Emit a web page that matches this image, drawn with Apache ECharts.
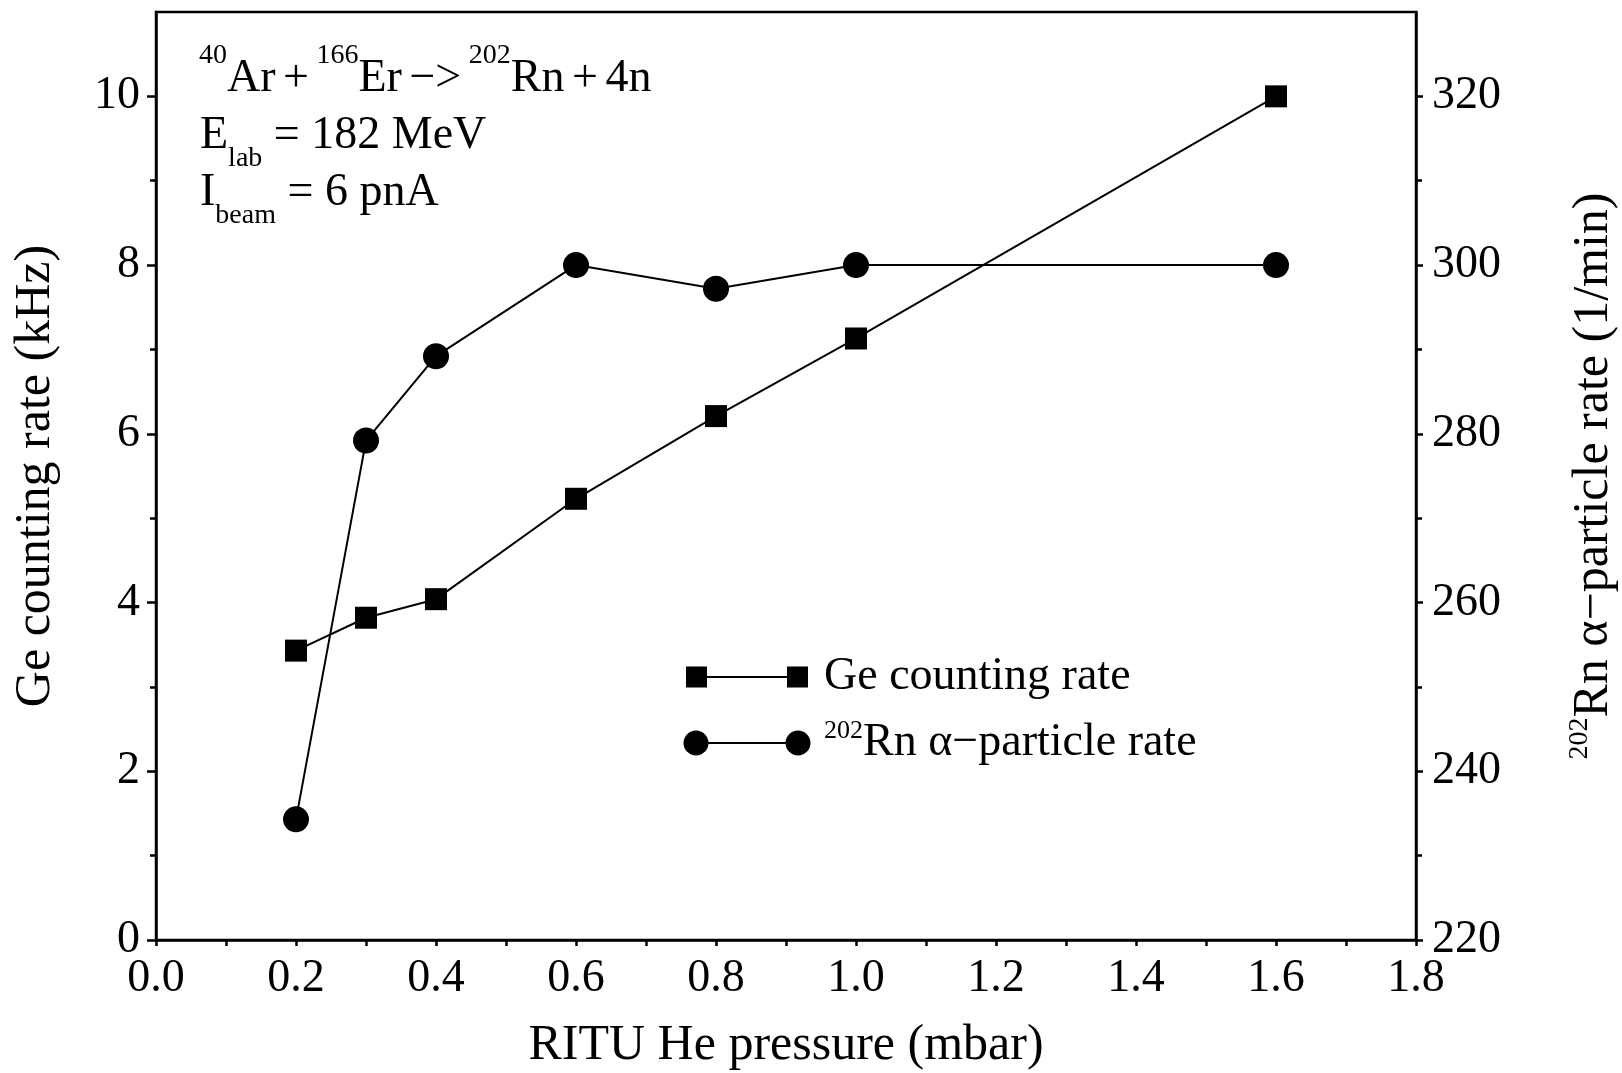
<!DOCTYPE html>
<html><head><meta charset="utf-8">
<script src="https://cdn.jsdelivr.net/npm/echarts@6/dist/echarts.min.js"></script>
<style>html,body{margin:0;padding:0;background:#fff}#c{width:1622px;height:1073px}</style>
</head><body><div id="c"></div>
<script>
// ---- data ----
const pressure = [0.2, 0.3, 0.4, 0.6, 0.8, 1.0, 1.6];          // mbar
const geRate   = [3.43, 3.82, 4.04, 5.23, 6.21, 7.13, 10.0];   // kHz (left axis)
const rnRate   = [234.3, 279.2, 289.2, 300.0, 297.2, 300.0, 300.0]; // 1/min (right axis)
const leftMajorTicks  = [0, 2, 4, 6, 8, 10];
const leftMinorTicks  = [1, 3, 5, 7, 9];
const rightMajorTicks = [220, 240, 260, 280, 300, 320];
const rightMinorTicks = [230, 250, 270, 290, 310];
const seriesNames = ['Ge counting rate', 'Rn α−particle rate'];

const FONT = "'Liberation Serif', 'Times New Roman', serif";
const BLACK = '#000';
const AX = 2.5;

const chart = echarts.init(document.getElementById('c'), null, {renderer: 'canvas'});

const squareIcon = 'path://M0,0M136,26M3,2.5h21v21h-21zM24,12h80v2h-80zM104,2.5h21v21h-21z';
const circleIcon = 'path://M0,0M136,26M0.5,13a12.5,12.5 0 1,0 25,0a12.5,12.5 0 1,0 -25,0zM25.5,12h77v2h-77zM102.5,13a12.5,12.5 0 1,0 25,0a12.5,12.5 0 1,0 -25,0z';

function baseY(pos, min, max, major, len, margin) {
  return {
    type: 'value', position: pos, min: min, max: max,
    axisLine: {show: true, lineStyle: {color: BLACK, width: AX}},
    axisTick: {show: true, inside: false, length: len, customValues: major, lineStyle: {color: BLACK, width: AX}},
    axisLabel: {show: true, customValues: major, margin: margin, fontFamily: FONT, fontSize: 46, color: BLACK},
    splitLine: {show: false}
  };
}
function minorY(pos, min, max, minor, len) {
  return {
    type: 'value', position: pos, min: min, max: max,
    axisLine: {show: false},
    axisTick: {show: true, inside: false, length: len, customValues: minor, lineStyle: {color: BLACK, width: AX}},
    axisLabel: {show: false},
    splitLine: {show: false}
  };
}

const yLeft = baseY('left', 0, 11, leftMajorTicks, 9, 16);
yLeft.name = 'Ge counting rate (kHz)';
yLeft.nameLocation = 'middle';
yLeft.nameRotate = 90;
yLeft.nameGap = 92;
yLeft.nameTextStyle = {fontFamily: FONT, fontSize: 50, color: BLACK, lineHeight: 56};

const yRight = baseY('right', 220, 330, rightMajorTicks, 7, 16);
yRight.name = '{sup|202}{m|Rn α−particle rate (1/min)}';
yRight.nameLocation = 'middle';
yRight.nameRotate = 90;
yRight.nameGap = 150;
yRight.nameTextStyle = {
  fontFamily: FONT, fontSize: 50, color: BLACK,
  rich: {
    m: {fontFamily: FONT, fontSize: 50, color: BLACK, lineHeight: 56},
    sup: {fontFamily: FONT, fontSize: 28, color: BLACK, lineHeight: 28, verticalAlign: 'top'}
  }
};

const annoRich = {
  m: {fontFamily: FONT, fontSize: 46, fill: BLACK, lineHeight: 74},
  sp: {fontFamily: FONT, fontSize: 30, fill: BLACK, lineHeight: 74},
  sup: {fontFamily: FONT, fontSize: 28, fill: BLACK, lineHeight: 28, verticalAlign: 'top'},
  sub: {fontFamily: FONT, fontSize: 28, fill: BLACK, lineHeight: 36, verticalAlign: 'bottom'}
};

const option = {
  animation: false,
  backgroundColor: '#fff',
  grid: {
    left: 156, right: 206, top: 12, bottom: 133,
    containLabel: false, outerBoundsMode: 'none',
    show: true, borderColor: BLACK, borderWidth: AX, backgroundColor: 'transparent'
  },
  xAxis: {
    type: 'value', min: 0, max: 1.8, interval: 0.2,
    name: 'RITU He pressure (mbar)', nameLocation: 'middle', nameGap: 78,
    nameTextStyle: {fontFamily: FONT, fontSize: 50, color: BLACK, lineHeight: 56},
    axisLine: {show: true, lineStyle: {color: BLACK, width: AX}},
    axisTick: {show: true, inside: false, length: 6, lineStyle: {color: BLACK, width: AX}},
    minorTick: {show: true, splitNumber: 2, length: 6, lineStyle: {color: BLACK, width: AX}},
    axisLabel: {margin: 16, fontFamily: FONT, fontSize: 46, color: BLACK, formatter: v => v.toFixed(1)},
    splitLine: {show: false}, minorSplitLine: {show: false}
  },
  yAxis: [yLeft, yRight, minorY('left', 0, 11, leftMinorTicks, 6), minorY('right', 220, 330, rightMinorTicks, 6)],
  legend: {
    orient: 'vertical', left: 683, top: 654, padding: 0,
    itemWidth: 136, itemHeight: 26, itemGap: 18,
    data: [
      {name: seriesNames[0], icon: squareIcon},
      {name: seriesNames[1], icon: circleIcon}
    ],
    formatter: function (name) {
      return name === seriesNames[1] ? '{sup|202}{m|' + name + '}' : '{m|' + name + '}';
    },
    textStyle: {
      fontFamily: FONT, fontSize: 46, color: BLACK,
      rich: {
        m: {fontFamily: FONT, fontSize: 46, color: BLACK, lineHeight: 50},
        sup: {fontFamily: FONT, fontSize: 26, color: BLACK, lineHeight: 26, verticalAlign: 'top'}
      }
    },
    selectedMode: false
  },
  graphic: [
    {type: 'text', left: 199, top: 42, silent: true, style: {
      text: '{sup|40}{m|Ar}{sp| }{m|+}{sp| }{sup|166}{m|Er}{sp| }{m|−>}{sp| }{sup|202}{m|Rn}{sp| }{m|+}{sp| }{m|4n}',
      rich: annoRich
    }},
    {type: 'text', left: 200, top: 113, silent: true, style: {
      text: '{m|E}{sub|lab}{m| = 182 MeV}',
      rich: annoRich
    }},
    {type: 'text', left: 200, top: 170, silent: true, style: {
      text: '{m|I}{sub|beam}{m| = 6 pnA}',
      rich: annoRich
    }}
  ],
  series: [
    {
      name: seriesNames[0], type: 'line', yAxisIndex: 0,
      data: pressure.map((p, i) => [p, geRate[i]]),
      symbol: 'rect', symbolSize: 22, showAllSymbol: true,
      lineStyle: {color: BLACK, width: 2}, itemStyle: {color: BLACK},
      emphasis: {disabled: true}, z: 3
    },
    {
      name: seriesNames[1], type: 'line', yAxisIndex: 1,
      data: pressure.map((p, i) => [p, rnRate[i]]),
      symbol: 'circle', symbolSize: 26, showAllSymbol: true,
      lineStyle: {color: BLACK, width: 2}, itemStyle: {color: BLACK},
      emphasis: {disabled: true}, z: 3
    }
  ]
};
chart.setOption(option);
</script>
</body></html>
